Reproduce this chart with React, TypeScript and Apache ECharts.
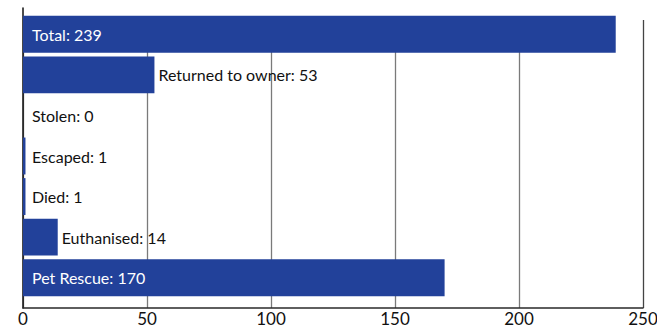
import React, { useEffect, useRef } from "react";
import * as echarts from "echarts";

const categories = ["Total", "Returned to owner", "Stolen", "Escaped", "Died", "Euthanised", "Pet Rescue"];
const values = [239, 53, 0, 1, 1, 14, 170];
const xTicks = [0, 50, 100, 150, 200, 250];

const BLUE = "#22419a";
const FONT = "Lato, 'Noto Sans', sans-serif";

export default function App() {
  const ref = useRef<HTMLDivElement>(null);
  useEffect(() => {
    if (!ref.current) return;
    const chart = echarts.init(ref.current, null, { renderer: "svg" });
    const xMin = xTicks[0];
    const xMax = xTicks[xTicks.length - 1];
    const step = xTicks[1] - xTicks[0];
    const data = values.map((v) => {
      let label: any;
      if (v >= 100) {
        label = { position: "insideLeft", distance: 9, color: "#ffffff" };
      } else if (v < 5) {
        label = { position: "insideLeft", distance: 9, color: "#111111" };
      } else {
        label = { position: "right", distance: 4, color: "#111111" };
      }
      return { value: v, label };
    });
    const gridColors = xTicks.map((_, i) => (i === xTicks.length - 1 ? "#444444" : "#7a7a7a"));
    const gridBase = { left: 23, right: 14, outerBoundsMode: "none", containLabel: false };
    chart.setOption({
      animation: false,
      grid: [
        { ...gridBase, top: 20, bottom: 17 },
        { ...gridBase, top: 14, height: 284 },
        { ...gridBase, top: 8, bottom: 17 },
      ],
      xAxis: [
        {
          gridIndex: 0,
          type: "value",
          min: xMin,
          max: xMax,
          interval: step,
          axisLine: { show: true, lineStyle: { color: "#2a2a2a", width: 1.5 } },
          axisTick: { show: false },
          axisLabel: { color: "#111", fontFamily: FONT, fontSize: 17, margin: 2 },
          splitLine: { show: true, lineStyle: { color: gridColors, width: 1.3 } },
        },
        { gridIndex: 1, type: "value", min: xMin, max: xMax, show: false },
        { gridIndex: 2, type: "value", min: xMin, max: xMax, show: false },
      ],
      yAxis: [
        { gridIndex: 0, type: "category", data: categories, inverse: true, show: false },
        { gridIndex: 1, type: "category", data: categories, inverse: true, show: false },
        {
          gridIndex: 2,
          type: "category",
          data: categories,
          inverse: true,
          axisLine: { show: true, lineStyle: { color: "#111", width: 1.5 } },
          axisTick: { show: false },
          axisLabel: { show: false },
          splitLine: { show: false },
        },
      ],
      series: [
        {
          type: "bar",
          xAxisIndex: 1,
          yAxisIndex: 1,
          data,
          barCategoryGap: "9%",
          itemStyle: { color: BLUE },
          label: {
            show: true,
            fontFamily: FONT,
            fontSize: 16,
            formatter: (p: any) => `${categories[p.dataIndex]}: ${p.value}`,
          },
        },
      ],
    });
    return () => chart.dispose();
  }, []);
  return <div ref={ref} style={{ width: 657, height: 325, position: "absolute", left: 0, top: 0 }} />;
}
